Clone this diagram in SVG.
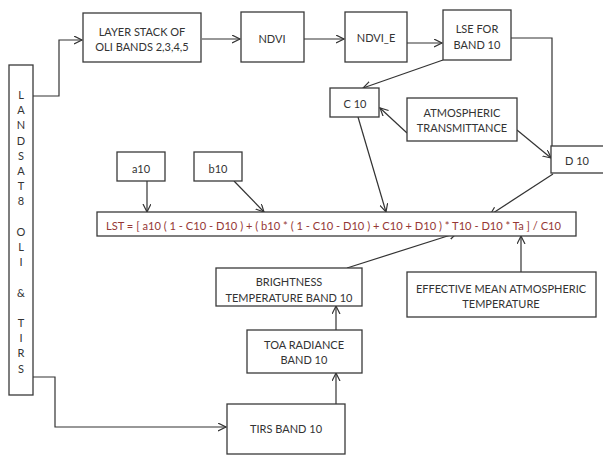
<svg xmlns="http://www.w3.org/2000/svg" width="603" height="458" viewBox="0 0 603 458">
<style>
.box{fill:#fff;stroke:#3a3a3a;stroke-width:1.3}
.t{font-family:Lato,"Open Sans","Liberation Sans",sans-serif;font-size:11px;fill:#333;text-anchor:middle;dominant-baseline:central}
.f{font-family:Lato,"Open Sans","Liberation Sans",sans-serif;font-size:11.5px;fill:#953735;dominant-baseline:central}
.c{fill:none;stroke:#333;stroke-width:1.2}
</style>
<defs>
<marker id="ah" markerUnits="userSpaceOnUse" markerWidth="10" markerHeight="10" refX="8" refY="4" orient="auto">
<path d="M0,0 L8,4 L0,8" fill="none" stroke="#333" stroke-width="1.2"/>
</marker>
</defs>
<rect width="603" height="458" fill="#fff"/>
<g id="connectors">
<path class="c" d="M33,96 H59 V40 H82" marker-end="url(#ah)"/>
<path class="c" d="M202,39 H240" marker-end="url(#ah)"/>
<path class="c" d="M304,39 H344" marker-end="url(#ah)"/>
<path class="c" d="M407,43 H442" marker-end="url(#ah)"/>
<path class="c" d="M511,38 H552 V146"/>
<path class="c" d="M443,60 L363,88" marker-end="url(#ah)"/>
<path class="c" d="M407,133 L380,108" marker-end="url(#ah)"/>
<path class="c" d="M517,130 L551,158" marker-end="url(#ah)"/>
<path class="c" d="M358,117 L386,212" marker-end="url(#ah)"/>
<path class="c" d="M553,174 L490,215" marker-end="url(#ah)"/>
<path class="c" d="M147,181 V212" marker-end="url(#ah)"/>
<path class="c" d="M234,181 L264,212" marker-end="url(#ah)"/>
<path class="c" d="M347,268 L457,233" marker-end="url(#ah)"/>
<path class="c" d="M521,272 V236" marker-end="url(#ah)"/>
<path class="c" d="M336,330 V306" marker-end="url(#ah)"/>
<path class="c" d="M336,404 V373" marker-end="url(#ah)"/>
<path class="c" d="M33,377 H55 V427 H226" marker-end="url(#ah)"/>
</g>
<g id="landsat">
<rect class="box" x="9" y="65" width="24" height="330"/>
<text class="t" x="21" y="94">L</text>
<text class="t" x="21" y="109">A</text>
<text class="t" x="21" y="124">N</text>
<text class="t" x="21" y="140">D</text>
<text class="t" x="21" y="155">S</text>
<text class="t" x="21" y="170">A</text>
<text class="t" x="21" y="185">T</text>
<text class="t" x="21" y="200">8</text>
<text class="t" x="21" y="231">O</text>
<text class="t" x="21" y="246">L</text>
<text class="t" x="21" y="261">I</text>
<text class="t" x="21" y="292">&amp;</text>
<text class="t" x="21" y="322">T</text>
<text class="t" x="21" y="337">I</text>
<text class="t" x="21" y="352">R</text>
<text class="t" x="21" y="368">S</text>
</g>
<g id="layerstack">
<rect class="box" x="83" y="13" width="118" height="49"/>
<text class="t" x="142" y="31">LAYER STACK OF</text>
<text class="t" x="142" y="46">OLI BANDS 2,3,4,5</text>
</g>
<g id="ndvi">
<rect class="box" x="241" y="12" width="63" height="50"/>
<text class="t" x="272" y="38">NDVI</text>
</g>
<g id="ndvie">
<rect class="box" x="345" y="12" width="62" height="50"/>
<text class="t" x="376" y="37">NDVI_E</text>
</g>
<g id="lse">
<rect class="box" x="443" y="10" width="68" height="50"/>
<text class="t" x="477" y="28">LSE FOR</text>
<text class="t" x="477" y="44">BAND 10</text>
</g>
<g id="c10">
<rect class="box" x="330" y="88" width="49" height="29"/>
<text class="t" x="355" y="103">C 10</text>
</g>
<g id="atm">
<rect class="box" x="407" y="98" width="110" height="43"/>
<text class="t" x="462" y="112">ATMOSPHERIC</text>
<text class="t" x="462" y="127">TRANSMITTANCE</text>
</g>
<g id="d10">
<rect class="box" x="551" y="146" width="60" height="27"/>
<text class="t" x="577" y="160">D 10</text>
</g>
<g id="a10">
<rect class="box" x="117" y="152" width="48" height="29"/>
<text class="t" x="141" y="168">a10</text>
</g>
<g id="b10">
<rect class="box" x="194" y="152" width="48" height="29"/>
<text class="t" x="218" y="168">b10</text>
</g>
<g id="lst">
<rect class="box" x="97" y="212" width="479" height="24"/>
<text class="f" x="106" y="225" textLength="455" lengthAdjust="spacingAndGlyphs">LST = [ a10 ( 1 - C10 - D10 ) + ( b10 * ( 1 - C10 - D10 ) + C10 + D10 ) * T10 - D10 * Ta ] / C10</text>
</g>
<g id="brightness">
<rect class="box" x="216" y="268" width="146" height="38"/>
<text class="t" x="289" y="281">BRIGHTNESS</text>
<text class="t" x="289" y="297">TEMPERATURE BAND 10</text>
</g>
<g id="effective">
<rect class="box" x="407" y="272" width="189" height="45"/>
<text class="t" x="501" y="288">EFFECTIVE MEAN ATMOSPHERIC</text>
<text class="t" x="501" y="303">TEMPERATURE</text>
</g>
<g id="toa">
<rect class="box" x="247" y="330" width="115" height="43"/>
<text class="t" x="304" y="344">TOA RADIANCE</text>
<text class="t" x="304" y="359">BAND 10</text>
</g>
<g id="tirs">
<rect class="box" x="227" y="404" width="118" height="50"/>
<text class="t" x="286" y="428">TIRS BAND 10</text>
</g>
</svg>
